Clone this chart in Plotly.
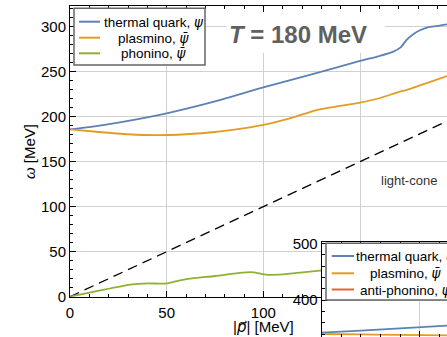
import plotly.graph_objects as go

W, H = 447, 337

# ---------------- data (main panel) ----------------
quark_p = [0, 10, 25, 50, 75, 100, 125, 150, 160, 167, 171, 174, 177, 181, 185, 190, 195]
quark_w = [186, 188.5, 193.5, 203.8, 217, 232.6, 247, 261.9, 267.4, 272, 277, 285, 290.8, 296, 299.3, 300.8, 302.6]

plasmino_p = [0, 15, 30, 45, 60, 75, 93, 100, 115, 127.6, 150, 160, 169, 176, 183, 195]
plasmino_w = [186, 183, 180.5, 179.5, 180.5, 183, 188.2, 190.8, 199, 207.4, 215.6, 220.5, 226.7, 231, 236.3, 245.2]

phonino_p = [0, 15, 32, 40, 49, 54, 61, 75, 89, 95, 101, 110, 129, 140]
phonino_w = [0, 6.7, 13.7, 14.9, 14.5, 16.7, 19.7, 23, 26.7, 27.1, 24.5, 24.9, 28.9, 30.5]

lightcone_p = [0, 200]
lightcone_w = [0, 200]

# ---------------- data (inset panel, partly visible) ----------------
inset_quark_p = [0, 20, 40, 64]
inset_quark_w = [342.3, 346, 350, 354.7]
inset_plasmino_p = [0, 20, 40, 64]
inset_plasmino_w = [340, 339.3, 338.5, 337.7]

# ---------------- ticks / labels ----------------
x_ticks = [0, 50, 100, 150]
y_ticks = [0, 50, 100, 150, 200, 250, 300]
inset_y_ticks = [400, 500]
inset_x_ticks = [0, 50]

PSI = "<span style='font-family:DejaVu Sans'><i>ψ</i></span>"
PSIBAR = "<span style='font-family:DejaVu Sans'><i>ψ\u0304</i></span>"
legend_labels = ["thermal quark, " + PSI, "plasmino, " + PSIBAR, "phonino, " + PSIBAR]
inset_legend_labels = ["thermal quark, " + PSI, "plasmino, " + PSIBAR, "anti-phonino, " + PSI]

BLUE = "#5E81B5"
ORANGE = "#E19C24"
GREEN = "#8FB032"
RED = "#EB6235"
GRID = "#d0d0d0"
FONT = "Liberation Sans, Arial, sans-serif"


def px(x):
    return x / W


def py(y):
    return 1 - y / H


fig = go.Figure()

line_kw = dict(mode="lines", line_shape="spline", hoverinfo="skip", showlegend=False)
fig.add_trace(go.Scatter(x=lightcone_p, y=lightcone_w, mode="lines",
                         line=dict(color="black", width=1.3, dash="10px,6px"),
                         hoverinfo="skip", showlegend=False, xaxis="x", yaxis="y"))
fig.add_trace(go.Scatter(x=quark_p, y=quark_w, line=dict(color=BLUE, width=1.8, smoothing=0.6), xaxis="x", yaxis="y", **line_kw))
fig.add_trace(go.Scatter(x=plasmino_p, y=plasmino_w, line=dict(color=ORANGE, width=1.8, smoothing=0.6), xaxis="x", yaxis="y", **line_kw))
fig.add_trace(go.Scatter(x=phonino_p, y=phonino_w, line=dict(color=GREEN, width=1.8, smoothing=0.6), xaxis="x", yaxis="y", **line_kw))

fig.add_trace(go.Scatter(x=inset_quark_p, y=inset_quark_w, line=dict(color=BLUE, width=1.8), xaxis="x2", yaxis="y2", **line_kw))
fig.add_trace(go.Scatter(x=inset_plasmino_p, y=inset_plasmino_w, line=dict(color=ORANGE, width=1.8), xaxis="x2", yaxis="y2", **line_kw))

tickfont = dict(family=FONT, size=15, color="black")

axis_common = dict(
    showline=True, linecolor="black", linewidth=1,
    ticks="inside", ticklen=6, tickwidth=1, tickcolor="black",
    showgrid=True, gridcolor=GRID, gridwidth=1, zeroline=False,
    tickfont=tickfont, automargin=False, fixedrange=True,
)

fig.update_layout(
    width=W, height=H,
    margin=dict(l=0, r=0, t=0, b=0),
    template="none",
    paper_bgcolor="white", plot_bgcolor="white",
    font=dict(family=FONT, size=14, color="black"),
    showlegend=False,
    xaxis=dict(domain=[px(70), 1], range=[0, 195], tickvals=x_ticks, mirror="allticks",
               ticklabelstandoff=2,
               minor=dict(ticks="inside", ticklen=3, dtick=10, tickcolor="black", showgrid=False),
               anchor="y", **axis_common),
    yaxis=dict(domain=[py(296.7), py(6)], range=[0, 323], tickvals=y_ticks, mirror=False,
               minor=dict(ticks="inside", ticklen=3, dtick=10, tickcolor="black", showgrid=False),
               anchor="x", **axis_common),
    xaxis2=dict(domain=[px(321.7), 1], range=[0, 64], tickvals=inset_x_ticks, mirror="allticks",
                showticklabels=False,
                minor=dict(ticks="inside", ticklen=3, dtick=10, tickcolor="black", showgrid=False),
                anchor="y2", **axis_common),
    yaxis2=dict(domain=[0, py(241.7)], range=[334.7, 503], tickvals=inset_y_ticks, mirror=False,
                minor=dict(ticks="inside", ticklen=3, dtick=20, tickcolor="black", showgrid=False),
                anchor="x2", **axis_common),
)

shapes = []
# white patch behind the temperature label (hides grid lines only)
shapes.append(dict(type="rect", xref="x", yref="y", x0=81, x1=163, y0=271, y1=330,
                   fillcolor="white", line=dict(width=0), layer="between"))

# main legend box
shapes.append(dict(type="rect", xref="paper", yref="paper", x0=px(74), x1=px(205), y0=py(65), y1=py(8.3),
                   fillcolor="white", line=dict(color="#666666", width=1.5), layer="above"))
main_rows = [21.7, 37.7, 53.3]
for yy, col in zip(main_rows, [BLUE, ORANGE, GREEN]):
    shapes.append(dict(type="line", xref="paper", yref="paper", x0=px(79), x1=px(100), y0=py(yy), y1=py(yy),
                       line=dict(color=col, width=2), layer="above"))

# inset legend box
shapes.append(dict(type="rect", xref="paper", yref="paper", x0=px(326), x1=px(490), y0=py(300), y1=py(243.3),
                   fillcolor="white", line=dict(color="#666666", width=1.5), layer="above"))
inset_rows = [256, 273.3, 289.5]
for yy, col in zip(inset_rows, [BLUE, ORANGE, RED]):
    shapes.append(dict(type="line", xref="paper", yref="paper", x0=px(331.7), x1=px(354), y0=py(yy), y1=py(yy),
                       line=dict(color=col, width=2), layer="above"))

annotations = []
for yy, txt in zip(main_rows, legend_labels):
    annotations.append(dict(xref="paper", yref="paper", x=px(153.5), y=py(yy), text=txt, showarrow=False,
                            xanchor="center", yanchor="middle", font=dict(family=FONT, size=13.5, color="black")))
for yy, txt in zip(inset_rows, inset_legend_labels):
    annotations.append(dict(xref="paper", yref="paper", x=px(406), y=py(yy), text=txt, showarrow=False,
                            xanchor="center", yanchor="middle", font=dict(family=FONT, size=13.5, color="black")))

annotations.append(dict(xref="paper", yref="paper", x=px(298), y=py(34.5), text="<b><i>T</i> = 180 MeV</b>",
                        showarrow=False, xanchor="center", yanchor="middle",
                        font=dict(family=FONT, size=24, color="#606060")))
annotations.append(dict(xref="paper", yref="paper", x=px(409), y=py(180), text="light-cone",
                        showarrow=False, xanchor="center", yanchor="middle",
                        font=dict(family=FONT, size=13, color="#333333")))
annotations.append(dict(xref="paper", yref="paper", x=px(263), y=py(326.5),
                        text="|<span style='font-family:DejaVu Sans'><i>p\u20d7</i></span>| [MeV]",
                        showarrow=False, xanchor="center", yanchor="middle",
                        font=dict(family=FONT, size=15, color="black")))
annotations.append(dict(xref="paper", yref="paper", x=px(29), y=py(151), text="<i>ω</i> [MeV]",
                        showarrow=False, xanchor="center", yanchor="middle", textangle=-90,
                        font=dict(family=FONT, size=15, color="black")))

fig.update_layout(shapes=shapes, annotations=annotations)

fig.write_html("out.html", config={"displayModeBar": False},
               post_script="document.body.style.margin='0';document.body.style.overflow='hidden';")
